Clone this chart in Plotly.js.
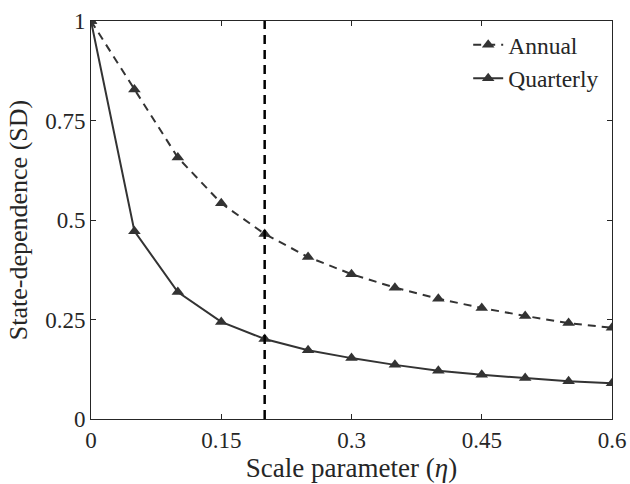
<!DOCTYPE html>
<html>
<head>
<meta charset="utf-8">
<script src="https://cdn.plot.ly/plotly-3.0.1.min.js"></script>
<style>html,body{margin:0;padding:0;background:#fff;}#chart{width:630px;height:484px;}</style>
</head>
<body>
<div id="chart"></div>
<script>
const eta = [0, 0.05, 0.1, 0.15, 0.2, 0.25, 0.3, 0.35, 0.4, 0.45, 0.5, 0.55, 0.6];
const annual = [1, 0.828, 0.657, 0.542, 0.465, 0.407, 0.364, 0.330, 0.302, 0.279, 0.259, 0.241, 0.229];
const quarterly = [1, 0.472, 0.319, 0.244, 0.201, 0.173, 0.153, 0.136, 0.121, 0.111, 0.103, 0.095, 0.090];
const xTicks = [0, 0.15, 0.3, 0.45, 0.6];
const xTickLabels = ["0", "0.15", "0.3", "0.45", "0.6"];
const yTicks = [0, 0.25, 0.5, 0.75, 1];
const yTickLabels = ["0", "0.25", "0.5", "0.75", "1"];
const cutoff = 0.2;

const lineColor = '#333333';
const fontFam = '"Liberation Serif", "DejaVu Serif", serif';

const traces = [
  {x: eta, y: annual, name: 'Annual', mode: 'lines+markers', type: 'scatter',
   line: {color: lineColor, width: 2, dash: '8px,6px'},
   marker: {symbol: 'triangle-up', size: 11, color: lineColor}},
  {x: eta, y: quarterly, name: 'Quarterly', mode: 'lines+markers', type: 'scatter',
   line: {color: lineColor, width: 2},
   marker: {symbol: 'triangle-up', size: 11, color: lineColor}}
];

const axisCommon = {
  showline: true, linecolor: '#262626', linewidth: 1, mirror: 'ticks',
  ticks: 'inside', ticklen: 5, tickcolor: '#262626', tickwidth: 1,
  showgrid: false, zeroline: false,
  tickfont: {family: fontFam, size: 23, color: '#262626'}
};

const layout = {
  width: 630, height: 484,
  margin: {l: 91, r: 18, t: 21, b: 65},
  paper_bgcolor: '#fff', plot_bgcolor: '#fff',
  font: {family: fontFam, color: '#262626'},
  xaxis: Object.assign({}, axisCommon, {
    range: [0, 0.6], tickmode: 'array', tickvals: xTicks, ticktext: xTickLabels,
    title: {text: 'Scale parameter (<i>η</i>)', font: {family: fontFam, size: 27, color: '#262626'}, standoff: 4}
  }),
  yaxis: Object.assign({}, axisCommon, {
    range: [0, 1], tickmode: 'array', tickvals: yTicks, ticktext: yTickLabels,
    title: {text: 'State-dependence (SD)', font: {family: fontFam, size: 26, color: '#262626'}, standoff: 10}
  }),
  shapes: [{type: 'line', xref: 'x', yref: 'y', x0: cutoff, x1: cutoff, y0: 0, y1: 1,
            line: {color: '#000', width: 2.5, dash: '9px,6px'}}],
  legend: {x: 0.985, y: 0.995, xanchor: 'right', yanchor: 'top',
           bgcolor: 'rgba(255,255,255,0)', borderwidth: 0,
           font: {family: fontFam, size: 23.5, color: '#262626'}, tracegroupgap: 0},
  showlegend: true
};

Plotly.newPlot('chart', traces, layout, {displayModeBar: false, staticPlot: true});
</script>
</body>
</html>
